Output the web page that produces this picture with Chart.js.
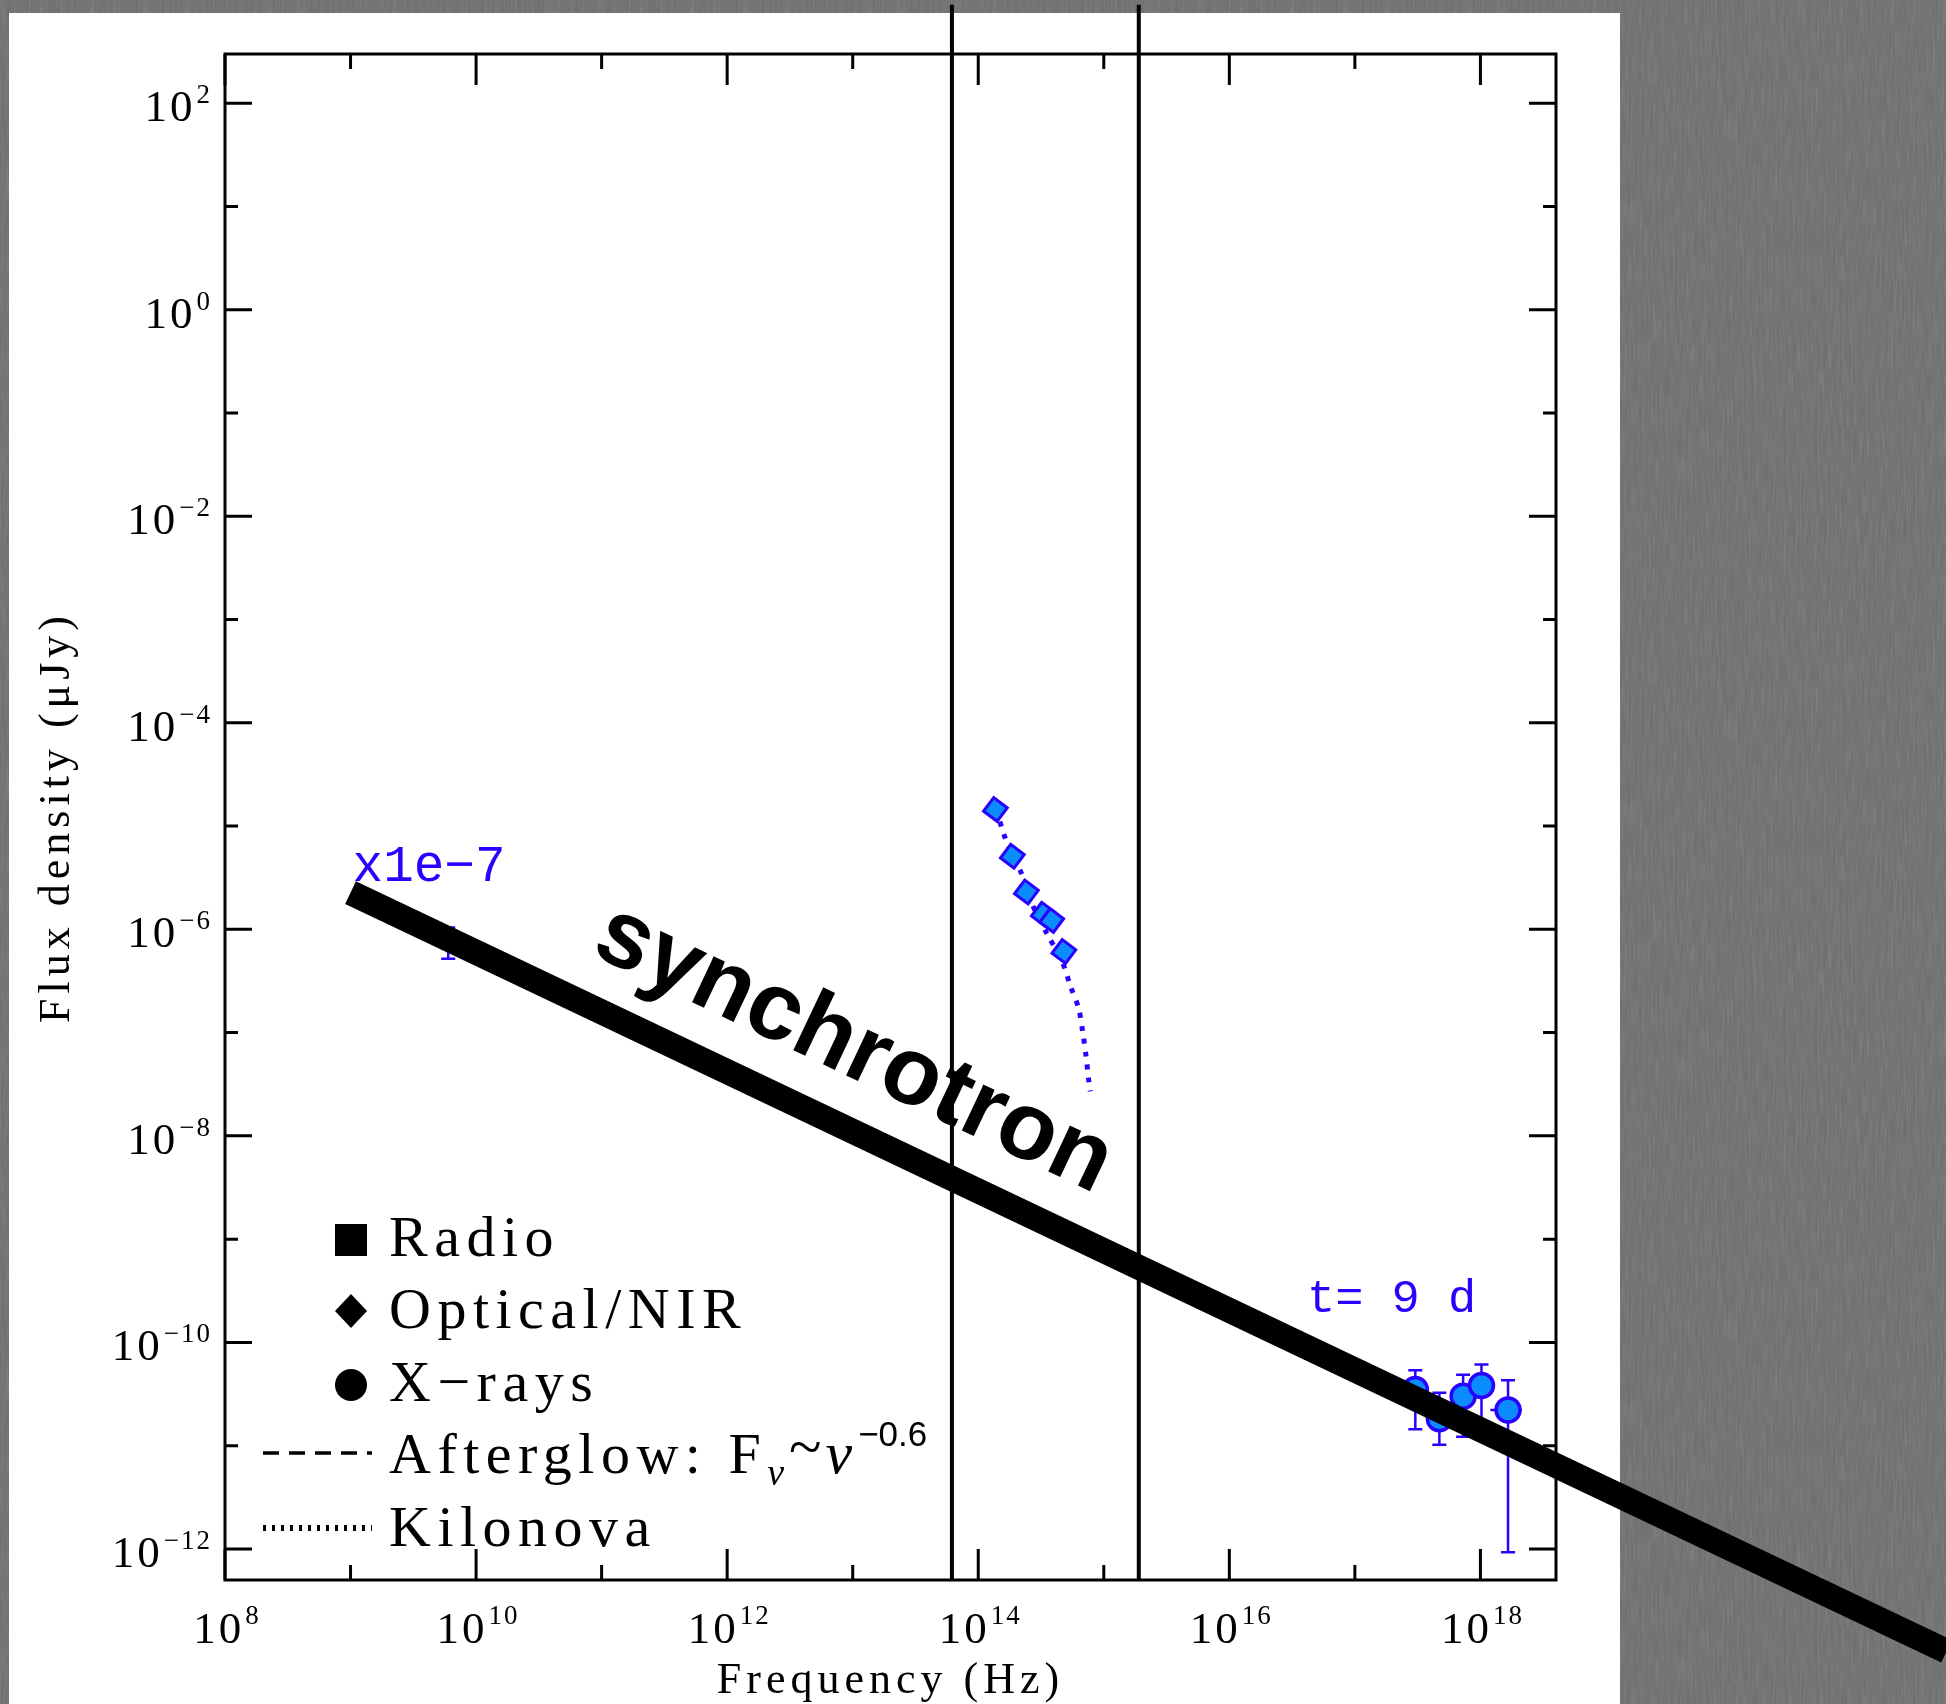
<!DOCTYPE html>
<html lang="en">
<head>
<meta charset="UTF-8">
<title>Spectral energy distribution, t = 9 d</title>
<script src="https://cdn.jsdelivr.net/npm/chart.js@4.4.1/dist/chart.umd.min.js"></script>
<style>
  html, body { margin: 0; padding: 0; }
  body {
    width: 1946px; height: 1704px; overflow: hidden; position: relative;
    background-color: #6c6c6c;
    background-image: url("data:image/svg+xml;utf8,<svg xmlns='http://www.w3.org/2000/svg' width='600' height='600'><filter id='n'><feTurbulence type='fractalNoise' baseFrequency='0.45 0.035' numOctaves='3' seed='7'/><feColorMatrix type='saturate' values='0'/></filter><rect width='100%' height='100%' filter='url(%23n)' opacity='0.22'/></svg>");
  }
  .sheet { position: absolute; left: 9px; top: 13px; width: 1611px; height: 1691px; background: #fff; }
  #sed { position: absolute; left: 0; top: 0; }
</style>
</head>
<body>
<div class="sheet"></div>
<canvas id="sed" width="1946" height="1704"></canvas>
<script>
    // frequencies in Hz, flux densities in microJy
    const radioFreq = [6.0e9];
    const radioFlux = [7.4e-7];
    const radioLo   = [5.2e-7];
    const radioHi   = [1.04e-6];

    const optFreq = [1.37e14, 1.87e14, 2.42e14, 3.30e14, 3.85e14, 4.81e14];
    const optFlux = [1.45e-5, 5.1e-6, 2.3e-6, 1.40e-6, 1.22e-6, 6.1e-7];

    const xrayFreq   = [3.03e17, 4.71e17, 7.28e17, 1.02e18, 1.66e18];
    const xrayFlux   = [3.50e-11, 1.82e-11, 3.01e-11, 3.83e-11, 2.21e-11];
    const xrayLo     = [1.44e-11, 1.02e-11, 1.22e-11, 1.68e-11, 9.3e-13];
    const xrayHi     = [5.38e-11, 3.25e-11, 4.86e-11, 6.1e-11, 4.31e-11];
    const xrayFreqLo = [3.03e17, 4.71e17, 7.28e17, 1.02e18, 1.20e18];
    const xrayFreqHi = [3.03e17, 4.71e17, 7.28e17, 1.02e18, 2.14e18];

    // kilonova model curve
    const knFreq = [1.39e14, 1.64e14, 2.23e14, 2.68e14, 3.48e14, 4.65e14, 5.41e14, 6.30e14, 6.78e14, 7.21e14, 7.57e14, 7.80e14];
    const knFlux = [1.46e-5, 7.67e-6, 3.39e-6, 1.77e-6, 9.35e-7, 4.90e-7, 2.85e-7, 1.72e-7, 1.03e-7, 6.03e-8, 3.51e-8, 2.70e-8];

    // synchrotron afterglow power law (runs off the plot to the right)
    const afterglowFreq = [1e9, 5.17e21];
    const afterglowFlux = [2.27e-6, 1.02e-13];

    // optical band edges and their vertical extent
    const bandEdgeFreq = [6.17e13, 1.9e15];
    const bandEdgeFlux = [5e-13, 900];

    // axes
    const xRange = [1e8, 4e18];
    const yRange = [5e-13, 300];
    const xLabelExps = [8, 10, 12, 14, 16, 18];
    const xMinorExps = [9, 11, 13, 15, 17];
    const yLabelExps = [2, 0, -2, -4, -6, -8, -10, -12];
    const yMinorExps = [1, -1, -3, -5, -7, -9, -11];

    const BLUE = '#2a00ff';
    const AZURE = '#0a8cff';
    const SERIF = '"Liberation Serif", "Times New Roman", serif';
    const SANS = '"Liberation Sans", Arial, sans-serif';
    const MONO = '"Liberation Mono", "Courier New", monospace';

    const pts = (xs, ys) => xs.map((x, i) => ({ x: x, y: ys[i] }));

    // box, inward ticks on all four sides
    const frame = {
        id: 'frame',
        beforeDatasetsDraw(chart) {
            const { ctx, chartArea: a } = chart;
            const sx = chart.scales.x, sy = chart.scales.y;
            ctx.save();
            ctx.strokeStyle = '#000';
            ctx.lineWidth = 3;
            ctx.strokeRect(a.left, a.top, a.right - a.left, a.bottom - a.top);
            ctx.beginPath();
            const xt = (e, len) => {
                const p = sx.getPixelForValue(Math.pow(10, e));
                ctx.moveTo(p, a.bottom); ctx.lineTo(p, a.bottom - len);
                ctx.moveTo(p, a.top); ctx.lineTo(p, a.top + len);
            };
            const yt = (e, len) => {
                const p = sy.getPixelForValue(Math.pow(10, e));
                ctx.moveTo(a.left, p); ctx.lineTo(a.left + len, p);
                ctx.moveTo(a.right, p); ctx.lineTo(a.right - len, p);
            };
            xLabelExps.forEach(e => xt(e, 31));
            xMinorExps.forEach(e => xt(e, 15));
            yLabelExps.forEach(e => yt(e, 27));
            yMinorExps.forEach(e => yt(e, 13));
            ctx.stroke();
            ctx.restore();
        }
    };

    // error bars sit under the markers and the power law
    const errorBars = {
        id: 'errorBars',
        beforeDatasetsDraw(chart) {
            const { ctx } = chart;
            const sx = chart.scales.x, sy = chart.scales.y;
            const cap = 7;
            ctx.save();
            ctx.strokeStyle = BLUE;
            ctx.lineWidth = 2.5;
            ctx.beginPath();
            const vbar = (f, lo, hi) => {
                const x = sx.getPixelForValue(f);
                const y1 = sy.getPixelForValue(lo), y2 = sy.getPixelForValue(hi);
                ctx.moveTo(x, y1); ctx.lineTo(x, y2);
                ctx.moveTo(x - cap, y1); ctx.lineTo(x + cap, y1);
                ctx.moveTo(x - cap, y2); ctx.lineTo(x + cap, y2);
            };
            radioFreq.forEach((f, i) => vbar(f, radioLo[i], radioHi[i]));
            xrayFreq.forEach((f, i) => {
                vbar(f, xrayLo[i], xrayHi[i]);
                const y = sy.getPixelForValue(xrayFlux[i]);
                ctx.moveTo(sx.getPixelForValue(xrayFreqLo[i]), y);
                ctx.lineTo(sx.getPixelForValue(xrayFreqHi[i]), y);
            });
            ctx.stroke();
            ctx.restore();
        }
    };

    // draws "10" with a raised exponent, anchored by its right edge or centre
    function powerLabel(ctx, exp, x, y, supRise, align) {
        const sup = exp < 0 ? '\u2212' + Math.abs(exp) : String(exp);
        ctx.font = '45px ' + SERIF;
        ctx.letterSpacing = '3px';
        const wBase = ctx.measureText('10').width;
        ctx.font = '27px ' + SERIF;
        ctx.letterSpacing = '2px';
        const wSup = ctx.measureText(sup).width;
        const total = wBase + 1 + wSup;
        const left = align === 'right' ? x - total : x - total / 2;
        ctx.textAlign = 'left';
        ctx.fillText(sup, left + wBase + 1, y - supRise);
        ctx.font = '45px ' + SERIF;
        ctx.letterSpacing = '3px';
        ctx.fillText('10', left, y);
    }

    const labels = {
        id: 'labels',
        afterDatasetsDraw(chart) {
            const { ctx, chartArea: a } = chart;
            const sx = chart.scales.x, sy = chart.scales.y;
            ctx.save();
            ctx.fillStyle = '#000';
            ctx.textBaseline = 'alphabetic';

            // tick labels
            yLabelExps.forEach(e => {
                const p = sy.getPixelForValue(Math.pow(10, e));
                powerLabel(ctx, e, a.left - 13, p + 18, 18, 'right');
            });
            xLabelExps.forEach(e => {
                const p = sx.getPixelForValue(Math.pow(10, e));
                powerLabel(ctx, e, p + 2, a.bottom + 63, 19, 'center');
            });

            // axis titles
            ctx.font = '44px ' + SERIF;
            ctx.letterSpacing = '5px';
            ctx.textAlign = 'center';
            ctx.fillText('Frequency (Hz)', (a.left + a.right) / 2, a.bottom + 113);
            ctx.save();
            ctx.translate(69, (a.top + a.bottom) / 2);
            ctx.rotate(-Math.PI / 2);
            ctx.fillText('Flux density (\u03bcJy)', 0, 0);
            ctx.restore();

            // blue annotations
            ctx.fillStyle = BLUE;
            ctx.letterSpacing = '0px';
            ctx.textAlign = 'left';
            ctx.font = '51px ' + MONO;
            ctx.fillText('x1e\u22127', sx.getPixelForValue(1e9) + 2, sy.getPixelForValue(2.96e-6));
            ctx.font = '47px ' + MONO;
            ctx.fillText('t= 9 d', sx.getPixelForValue(4.15e16), sy.getPixelForValue(1.95e-10));

            // synchrotron label along the power law
            const ag = chart.getDatasetMeta(0).data;
            const ang = Math.atan2(ag[1].y - ag[0].y, ag[1].x - ag[0].x);
            ctx.fillStyle = '#000';
            ctx.save();
            ctx.translate(sx.getPixelForValue(1.02e13), sy.getPixelForValue(6.84e-8));
            ctx.rotate(ang);
            ctx.font = 'bold 96px ' + SANS;
            ctx.textAlign = 'center';
            ctx.textBaseline = 'middle';
            ctx.fillText('synchrotron', 0, 0);
            ctx.restore();

            // legend
            const mx = 351, tx = 389, rows = [1256, 1328, 1401, 1473, 1546];
            ctx.fillStyle = '#000';
            ctx.fillRect(mx - 16, rows[0] - 32, 32, 32);
            ctx.beginPath();
            ctx.moveTo(mx, rows[1] - 34); ctx.lineTo(mx + 16, rows[1] - 17);
            ctx.lineTo(mx, rows[1]); ctx.lineTo(mx - 16, rows[1] - 17);
            ctx.closePath(); ctx.fill();
            ctx.beginPath();
            ctx.arc(mx, rows[2] - 16, 16, 0, Math.PI * 2);
            ctx.fill();
            ctx.strokeStyle = '#000';
            ctx.lineWidth = 3.5;
            ctx.setLineDash([16, 10]);
            ctx.beginPath(); ctx.moveTo(263, rows[3] - 20); ctx.lineTo(372, rows[3] - 20); ctx.stroke();
            ctx.lineWidth = 6;
            ctx.setLineDash([3, 6]);
            ctx.beginPath(); ctx.moveTo(263, rows[4] - 18); ctx.lineTo(372, rows[4] - 18); ctx.stroke();
            ctx.setLineDash([]);

            ctx.font = '58px ' + SERIF;
            ctx.letterSpacing = '6.5px';
            ctx.textAlign = 'left';
            ctx.textBaseline = 'alphabetic';
            ctx.fillText('Radio', tx, rows[0]);
            ctx.fillText('Optical/NIR', tx, rows[1]);
            ctx.fillText('X\u2212rays', tx, rows[2]);
            ctx.fillText('Kilonova', tx, rows[4]);
            let x = tx;
            ctx.fillText('Afterglow: F', x, rows[3]);
            x += ctx.measureText('Afterglow: F').width;
            ctx.font = 'italic 38px ' + SERIF;
            ctx.letterSpacing = '0px';
            ctx.fillText('\u03bd', x, rows[3] + 12);
            x += ctx.measureText('\u03bd').width + 5;
            ctx.font = '60px ' + SERIF;
            ctx.fillText('~', x, rows[3] - 6);
            x += ctx.measureText('~').width + 4;
            ctx.font = 'italic 60px ' + SERIF;
            ctx.fillText('\u03bd', x, rows[3]);
            x += ctx.measureText('\u03bd').width + 6;
            ctx.font = '35px ' + SANS;
            ctx.fillText('\u22120.6', x, rows[3] - 27);

            ctx.restore();
        }
    };

    new Chart(document.getElementById('sed'), {
        type: 'scatter',
        data: {
            datasets: [
                {
                    label: 'Afterglow',
                    data: pts(afterglowFreq, afterglowFlux),
                    showLine: true,
                    borderColor: '#000',
                    borderWidth: 25,
                    borderCapStyle: 'butt',
                    pointRadius: 0,
                    clip: false,
                    order: 0
                },
                {
                    label: 'Band edge 1',
                    data: pts([bandEdgeFreq[0], bandEdgeFreq[0]], bandEdgeFlux),
                    showLine: true,
                    borderColor: '#000',
                    borderWidth: 4,
                    pointRadius: 0,
                    clip: false,
                    order: 1
                },
                {
                    label: 'Band edge 2',
                    data: pts([bandEdgeFreq[1], bandEdgeFreq[1]], bandEdgeFlux),
                    showLine: true,
                    borderColor: '#000',
                    borderWidth: 4,
                    pointRadius: 0,
                    clip: false,
                    order: 1
                },
                {
                    label: 'X-rays',
                    data: pts(xrayFreq, xrayFlux),
                    pointStyle: 'circle',
                    pointRadius: 12,
                    backgroundColor: AZURE,
                    borderColor: BLUE,
                    borderWidth: 3.5,
                    order: 2
                },
                {
                    label: 'Radio',
                    data: pts(radioFreq, radioFlux),
                    pointStyle: 'rect',
                    pointRadius: 8,
                    backgroundColor: AZURE,
                    borderColor: BLUE,
                    borderWidth: 2.5,
                    order: 3
                },
                {
                    label: 'Optical/NIR',
                    data: pts(optFreq, optFlux),
                    pointStyle: 'rectRot',
                    pointRadius: 12,
                    pointRotation: -8,
                    backgroundColor: AZURE,
                    borderColor: BLUE,
                    borderWidth: 3,
                    order: 4
                },
                {
                    label: 'Kilonova',
                    data: pts(knFreq, knFlux),
                    showLine: true,
                    tension: 0.3,
                    borderColor: BLUE,
                    borderWidth: 5,
                    borderDash: [5, 8],
                    pointRadius: 0,
                    order: 5
                }
            ]
        },
        options: {
            responsive: false,
            animation: false,
            devicePixelRatio: 1,
            layout: { padding: { left: 225, top: 54, right: 390, bottom: 124 } },
            plugins: { legend: { display: false }, tooltip: { enabled: false } },
            scales: {
                x: { type: 'logarithmic', min: xRange[0], max: xRange[1], display: false },
                y: { type: 'logarithmic', min: yRange[0], max: yRange[1], display: false }
            }
        },
        plugins: [frame, errorBars, labels]
    });
</script>
</body>
</html>
